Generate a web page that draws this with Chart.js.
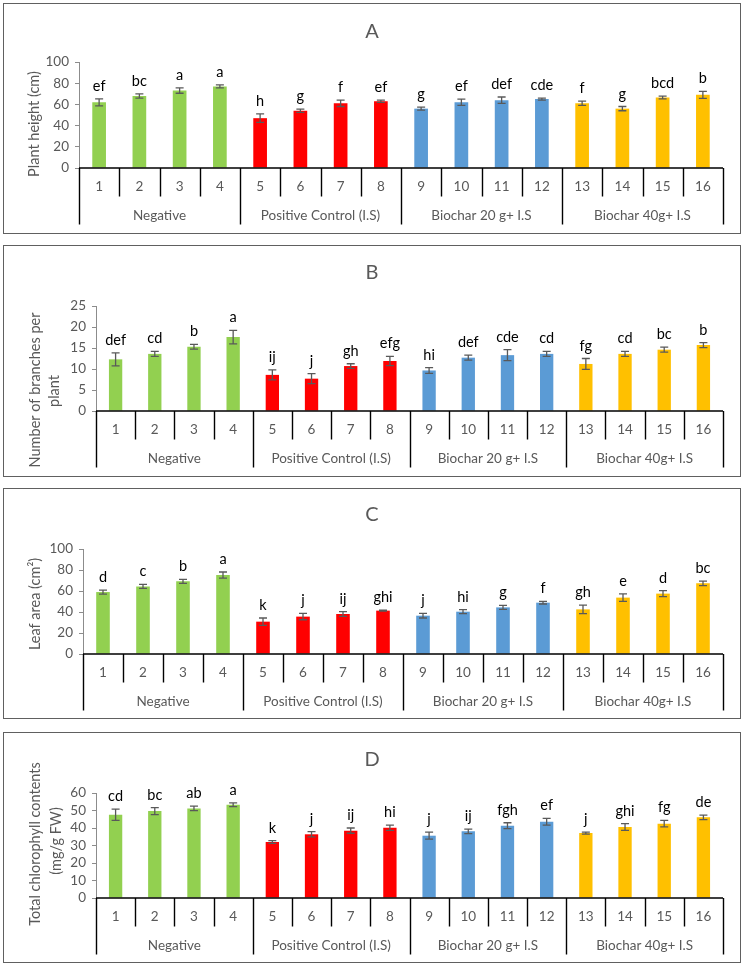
<!DOCTYPE html>
<html>
<head>
<meta charset="utf-8">
<script src="https://cdn.jsdelivr.net/npm/chart.js@4.4.0/dist/chart.umd.min.js"></script>
<style>
  body { margin: 0; background: #fff; width: 744px; height: 966px; position: relative; overflow: hidden; }
  canvas { position: absolute; left: 0; }
  .box { position: absolute; left: 3px; width: 738px; border: 1.5px solid #606060; box-sizing: border-box; pointer-events: none; }
</style>
</head>
<body>
<canvas id="chartA" width="744" height="231" style="top:3px"></canvas>
<canvas id="chartB" width="744" height="232" style="top:245px"></canvas>
<canvas id="chartC" width="744" height="231" style="top:488px"></canvas>
<canvas id="chartD" width="744" height="231" style="top:732px"></canvas>
<div class="box" style="top:3px;height:231px"></div>
<div class="box" style="top:245px;height:232px"></div>
<div class="box" style="top:488px;height:231px"></div>
<div class="box" style="top:732px;height:231px"></div>

<script>
// data
const categories = ['1','2','3','4','5','6','7','8','9','10','11','12','13','14','15','16'];
const groups = ['Negative', 'Positive Control (I.S)', 'Biochar 20 g+ I.S', 'Biochar 40g+ I.S'];
const groupSize = 4;

const heightValues = [62, 68, 73, 77, 47, 54, 61, 63, 56, 62, 64, 65, 61, 56, 66.5, 69];
const heightErrors = [3.3, 2, 2.5, 1.4, 4, 1.5, 3, 1, 1.4, 3, 3, 1, 2, 2, 1.3, 3.3];
const heightLetters = ['ef','bc','a','a','h','g','f','ef','g','ef','def','cde','f','g','bcd','b'];

const branchValues = [12.3, 13.6, 15.3, 17.6, 8.6, 7.7, 10.7, 11.9, 9.65, 12.7, 13.3, 13.6, 11.2, 13.6, 14.6, 15.7];
const branchErrors = [1.55, 0.6, 0.55, 1.6, 1.2, 1.2, 0.55, 1.1, 0.7, 0.6, 1.3, 0.6, 1.3, 0.6, 0.6, 0.6];
const branchLetters = ['def','cd','b','a','ij','j','gh','efg','hi','def','cde','cd','fg','cd','bc','b'];

const leafValues = [59, 64.4, 69.2, 75.2, 30.8, 35.6, 38.1, 41.3, 36.5, 40.3, 44.4, 48.9, 42.5, 53.7, 57.5, 67.3];
const leafErrors = [1.9, 1.9, 1.9, 2.9, 3.5, 3, 2.2, 0.5, 2.2, 1.9, 1.9, 1.3, 4.1, 3.5, 2.9, 2.1];
const leafLetters = ['d','c','b','a','k','j','ij','ghi','j','hi','g','f','gh','e','d','bc'];

const chlValues = [47.6, 49.7, 51.2, 53.3, 32, 36.4, 38.5, 40.2, 35.6, 38.1, 41.3, 43.6, 37.1, 40.6, 42.5, 46.1];
const chlErrors = [3.2, 2, 1.3, 1.1, 0.8, 1.5, 1.5, 1.5, 2, 1.3, 1.7, 1.9, 0.6, 1.9, 1.9, 1.3];
const chlLetters = ['cd','bc','ab','a','k','j','ij','hi','j','ij','fgh','ef','j','ghi','fg','de'];

// styles
const groupColors = ['#92D050', '#FF0000', '#5B9BD5', '#FFC000'];
const FONT = 'Lato';
const GREY = '#595959';

// error bars, letters, two-level category axis, titles
const decorPlugin = {
    id: 'decor',
    afterDatasetsDraw(chart) {
        const o = chart.options.plugins.decor;
        const ctx = chart.ctx;
        const y = chart.scales.y;
        const data = chart.data.datasets[0].data;
        ctx.save();
        chart.getDatasetMeta(0).data.forEach((bar, i) => {
            const top = y.getPixelForValue(data[i] + o.errors[i]);
            const bot = y.getPixelForValue(data[i] - o.errors[i]);
            ctx.strokeStyle = GREY;
            ctx.lineWidth = 1.3;
            ctx.beginPath();
            ctx.moveTo(bar.x, top); ctx.lineTo(bar.x, bot);
            ctx.moveTo(bar.x - 4, top); ctx.lineTo(bar.x + 4, top);
            ctx.moveTo(bar.x - 4, bot); ctx.lineTo(bar.x + 4, bot);
            ctx.stroke();
            ctx.fillStyle = '#000';
            ctx.font = '14.5px ' + FONT;
            ctx.textAlign = 'center';
            ctx.textBaseline = 'alphabetic';
            ctx.fillText(o.letters[i], bar.x, top - 8);
        });
        ctx.restore();
    },
    afterDraw(chart) {
        const o = chart.options.plugins.decor;
        const ctx = chart.ctx;
        const x = chart.scales.x;
        const area = chart.chartArea;
        const n = categories.length;
        const edge = k => k === 0 ? area.left : k === n ? area.right
            : (x.getPixelForValue(k - 1) + x.getPixelForValue(k)) / 2;

        ctx.save();
        ctx.strokeStyle = '#000';
        ctx.lineWidth = 1.4;
        ctx.beginPath();
        ctx.moveTo(area.left, area.bottom); ctx.lineTo(area.right, area.bottom);
        for (let k = 0; k <= n; k++) {
            const ex = Math.round(edge(k)) + 0.5;
            ctx.moveTo(ex, area.bottom);
            ctx.lineTo(ex, area.bottom + (k % groupSize === 0 ? 56.5 : 28.5));
        }
        ctx.stroke();

        ctx.fillStyle = GREY;
        ctx.textAlign = 'center';
        ctx.textBaseline = 'middle';
        ctx.font = '13.5px ' + FONT;
        categories.forEach((c, i) => ctx.fillText(c, x.getPixelForValue(i), area.bottom + 19));
        groups.forEach((g, j) => {
            const gx = (edge(j * groupSize) + edge((j + 1) * groupSize)) / 2;
            ctx.fillText(g, gx, area.bottom + 47.5);
        });

        // panel letter
        ctx.font = '20px ' + FONT;
        ctx.fillText(o.title, 372, o.titleY);

        // y axis title
        ctx.font = '14.5px ' + FONT;
        o.yTitle.forEach(t => {
            ctx.save();
            ctx.translate(t.x, t.y);
            ctx.rotate(-Math.PI / 2);
            ctx.fillText(t.text, 0, 0);
            ctx.restore();
        });
        ctx.restore();
    }
};

function makePanel(id, p) {
    const canvas = document.getElementById(id);
    const top = p.top;
    return new Chart(canvas.getContext('2d'), {
        type: 'bar',
        data: {
            labels: categories,
            datasets: [{
                data: p.values,
                backgroundColor: categories.map((c, i) => groupColors[Math.floor(i / groupSize)]),
                barPercentage: 0.34,
                categoryPercentage: 1
            }]
        },
        options: {
            responsive: false,
            animation: false,
            layout: {
                padding: {
                    left: 0,
                    right: 744 - 723,
                    top: p.plotTop - top,
                    bottom: top + p.height - p.plotBottom
                }
            },
            scales: {
                x: { display: false },
                y: {
                    min: 0,
                    max: p.yMax,
                    ticks: { stepSize: p.yStep, autoSkip: false, color: GREY, font: { family: FONT, size: 13.5 }, padding: 6 },
                    grid: { drawOnChartArea: false, drawTicks: true, tickLength: 4, color: '#8c8c8c' },
                    border: { color: '#8c8c8c', width: 1 },
                    afterFit(s) { s.width = p.plotLeft; }
                }
            },
            plugins: {
                legend: { display: false },
                tooltip: { enabled: false },
                decor: {
                    errors: p.errors,
                    letters: p.letters,
                    title: p.title,
                    titleY: p.titleY - top,
                    yTitle: p.yTitle.map(t => ({ text: t.text, x: t.x, y: t.y - top }))
                }
            }
        },
        plugins: [decorPlugin]
    });
}

makePanel('chartA', {
    top: 3, height: 231, plotLeft: 79, plotTop: 62, plotBottom: 168,
    yMax: 100, yStep: 20, values: heightValues, errors: heightErrors, letters: heightLetters,
    title: 'A', titleY: 32,
    yTitle: [{ text: 'Plant height (cm)', x: 34, y: 124 }]
});
makePanel('chartB', {
    top: 245, height: 232, plotLeft: 96, plotTop: 306, plotBottom: 411,
    yMax: 25, yStep: 5, values: branchValues, errors: branchErrors, letters: branchLetters,
    title: 'B', titleY: 273,
    yTitle: [{ text: 'Number of branches per', x: 35, y: 390 }, { text: 'plant', x: 54, y: 391 }]
});
makePanel('chartC', {
    top: 488, height: 231, plotLeft: 83, plotTop: 549, plotBottom: 654,
    yMax: 100, yStep: 20, values: leafValues, errors: leafErrors, letters: leafLetters,
    title: 'C', titleY: 515,
    yTitle: [{ text: 'Leaf area (cm\u00B2)', x: 35, y: 604 }]
});
makePanel('chartD', {
    top: 732, height: 231, plotLeft: 96, plotTop: 793, plotBottom: 898,
    yMax: 60, yStep: 10, values: chlValues, errors: chlErrors, letters: chlLetters,
    title: 'D', titleY: 760,
    yTitle: [{ text: 'Total chlorophyll contents', x: 35, y: 844 }, { text: '(mg/g FW)', x: 56, y: 841 }]
});
</script>
</body>
</html>
